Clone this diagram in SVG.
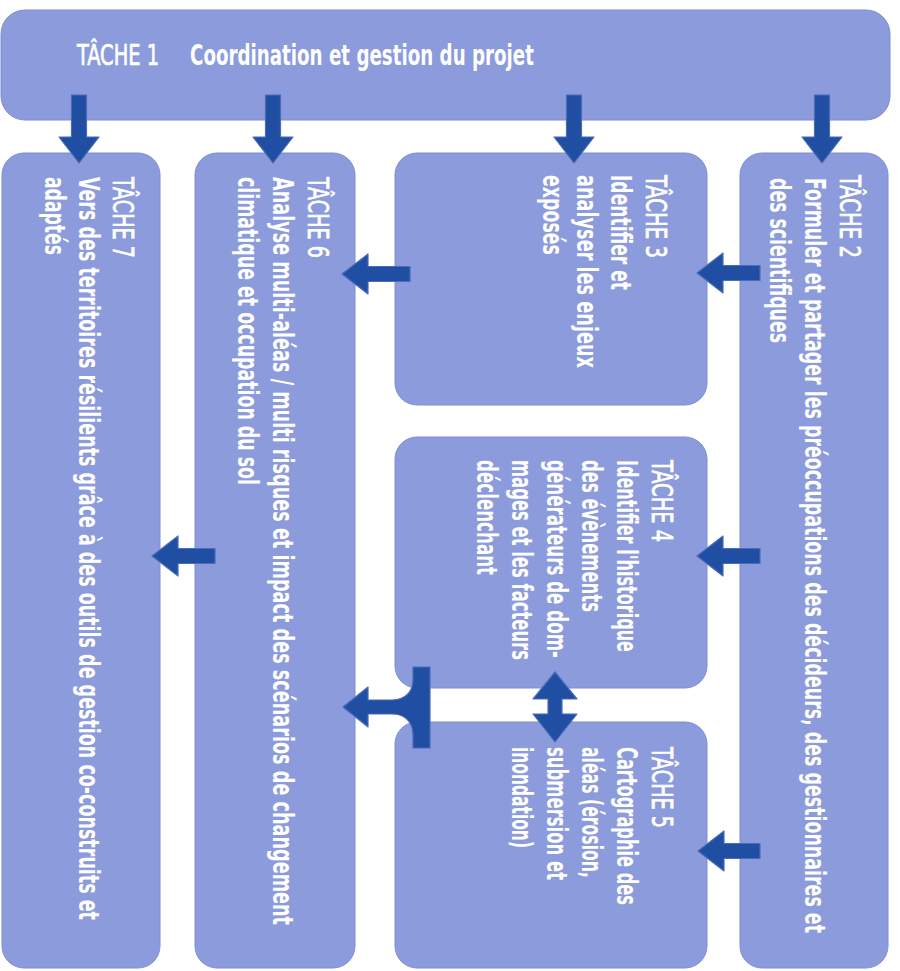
<svg xmlns="http://www.w3.org/2000/svg" width="900" height="971" viewBox="0 0 900 971">
<style>
.box{fill:#8c9bdc;stroke:#7e8ed0;stroke-width:1}
.arr{fill:#1f4ea3;stroke:#4a6cba;stroke-width:1.2;stroke-linejoin:round}
.t{font-family:"DejaVu Sans Condensed","DejaVu Sans",sans-serif;font-stretch:condensed;font-size:28px;fill:#ffffff}
.h{font-weight:normal;stroke:#ffffff;stroke-width:0.7}
.b{font-weight:bold}
</style>
<rect x="0" y="0" width="900" height="971" fill="#ffffff"/>
<g id="tache1">
<rect class="box" x="1" y="10" width="889" height="110" rx="24"/>
<text class="t h" transform="translate(77,65) scale(0.6,1)" textLength="136.7" lengthAdjust="spacingAndGlyphs">TÂCHE 1</text>
<text class="t b" transform="translate(190,65) scale(0.6,1)" textLength="573.3" lengthAdjust="spacingAndGlyphs">Coordination et gestion du projet</text>
</g>
<g id="tache2">
<rect class="box" x="740" y="153" width="148" height="815" rx="22"/>
<text class="t h" transform="translate(840,175) rotate(90) scale(0.6,1)" textLength="138.3" lengthAdjust="spacingAndGlyphs">TÂCHE 2</text>
<text class="t b" transform="translate(805,178) rotate(90) scale(0.6,1)" textLength="1258.3" lengthAdjust="spacingAndGlyphs">Formuler et partager les préoccupations des décideurs, des gestionnaires et</text>
<text class="t b" transform="translate(770,178) rotate(90) scale(0.6,1)" textLength="275" lengthAdjust="spacingAndGlyphs">des scientifiques</text>
</g>
<g id="tache3">
<rect class="box" x="395" y="153" width="312" height="252" rx="22"/>
<text class="t h" transform="translate(646,175) rotate(90) scale(0.6,1)" textLength="138.3" lengthAdjust="spacingAndGlyphs">TÂCHE 3</text>
<text class="t b" transform="translate(611,175) rotate(90) scale(0.6,1)" textLength="191.7" lengthAdjust="spacingAndGlyphs">Identifier et</text>
<text class="t b" transform="translate(577,175) rotate(90) scale(0.6,1)" textLength="321.7" lengthAdjust="spacingAndGlyphs">analyser les enjeux</text>
<text class="t b" transform="translate(543,175) rotate(90) scale(0.6,1)" textLength="133.3" lengthAdjust="spacingAndGlyphs">exposés</text>
</g>
<g id="tache4">
<rect class="box" x="395" y="437" width="312" height="251" rx="22"/>
<text class="t h" transform="translate(652,460) rotate(90) scale(0.6,1)" textLength="136.7" lengthAdjust="spacingAndGlyphs">TÂCHE 4</text>
<text class="t b" transform="translate(617,460) rotate(90) scale(0.6,1)" textLength="320" lengthAdjust="spacingAndGlyphs">Identifier l'historique</text>
<text class="t b" transform="translate(582,460) rotate(90) scale(0.6,1)" textLength="253.3" lengthAdjust="spacingAndGlyphs">des évènements</text>
<text class="t b" transform="translate(547,460) rotate(90) scale(0.6,1)" textLength="330" lengthAdjust="spacingAndGlyphs">générateurs de dom-</text>
<text class="t b" transform="translate(512,460) rotate(90) scale(0.6,1)" textLength="333.3" lengthAdjust="spacingAndGlyphs">mages et les facteurs</text>
<text class="t b" transform="translate(477,460) rotate(90) scale(0.6,1)" textLength="191.7" lengthAdjust="spacingAndGlyphs">déclenchant</text>
</g>
<g id="tache5">
<rect class="box" x="395" y="722" width="312" height="246" rx="22"/>
<text class="t h" transform="translate(652,747) rotate(90) scale(0.6,1)" textLength="135" lengthAdjust="spacingAndGlyphs">TÂCHE 5</text>
<text class="t b" transform="translate(617,747) rotate(90) scale(0.6,1)" textLength="263.3" lengthAdjust="spacingAndGlyphs">Cartographie des</text>
<text class="t b" transform="translate(582,747) rotate(90) scale(0.6,1)" textLength="218.3" lengthAdjust="spacingAndGlyphs">aléas (érosion,</text>
<text class="t b" transform="translate(547,747) rotate(90) scale(0.6,1)" textLength="221.7" lengthAdjust="spacingAndGlyphs">submersion et</text>
<text class="t b" transform="translate(512,747) rotate(90) scale(0.6,1)" textLength="168.3" lengthAdjust="spacingAndGlyphs">inondation)</text>
</g>
<g id="tache6">
<rect class="box" x="195" y="153" width="160" height="815" rx="22"/>
<text class="t h" transform="translate(308,177) rotate(90) scale(0.6,1)" textLength="135" lengthAdjust="spacingAndGlyphs">TÂCHE 6</text>
<text class="t b" transform="translate(273,177) rotate(90) scale(0.6,1)" textLength="1246.7" lengthAdjust="spacingAndGlyphs">Analyse multi-aléas / multi risques et impact des scénarios de changement</text>
<text class="t b" transform="translate(238,177) rotate(90) scale(0.6,1)" textLength="513.3" lengthAdjust="spacingAndGlyphs">climatique et occupation du sol</text>
</g>
<g id="tache7">
<rect class="box" x="2" y="153" width="158" height="815" rx="22"/>
<text class="t h" transform="translate(113,177) rotate(90) scale(0.6,1)" textLength="135" lengthAdjust="spacingAndGlyphs">TÂCHE 7</text>
<text class="t b" transform="translate(79,177) rotate(90) scale(0.6,1)" textLength="1238.3" lengthAdjust="spacingAndGlyphs">Vers des territoires résilients grâce à des outils de gestion co-construits et</text>
<text class="t b" transform="translate(45,177) rotate(90) scale(0.6,1)" textLength="130" lengthAdjust="spacingAndGlyphs">adaptés</text>
</g>
<g id="connectors">
<path class="arr" d="M71.5,95 L86.5,95 L86.5,137 L99,137 L79,163 L59,137 L71.5,137 Z"/>
<path class="arr" d="M265.5,95 L280.5,95 L280.5,137 L293,137 L273,163 L253,137 L265.5,137 Z"/>
<path class="arr" d="M566.5,95 L581.5,95 L581.5,137 L594,137 L574,163 L554,137 L566.5,137 Z"/>
<path class="arr" d="M814.5,95 L829.5,95 L829.5,137 L842,137 L822,163 L802,137 L814.5,137 Z"/>
<path class="arr" d="M697,273 L723,253 L723,265.5 L760,265.5 L760,280.5 L723,280.5 L723,293 Z"/>
<path class="arr" d="M697,556 L723,536 L723,548.5 L760,548.5 L760,563.5 L723,563.5 L723,576 Z"/>
<path class="arr" d="M698,851 L724,831 L724,843.5 L760,843.5 L760,858.5 L724,858.5 L724,871 Z"/>
<path class="arr" d="M342,274 L368,254 L368,266.5 L410,266.5 L410,281.5 L368,281.5 L368,294 Z"/>
<path class="arr" d="M152,556 L178,536 L178,548.5 L215,548.5 L215,563.5 L178,563.5 L178,576 Z"/>
<path class="arr" d="M343,707 L368,687 L368,700 L392,700 C405,700 413,692 413,680 L413,667 L430,667 L430,748 L413,748 L413,735 C413,722 405,714 392,714 L368,714 L368,727 Z"/>
<path class="arr" d="M555,672 L577,699 L562,699 L562,714 L577,714 L555,742 L533,714 L548,714 L548,699 L533,699 Z"/>
</g>
</svg>
